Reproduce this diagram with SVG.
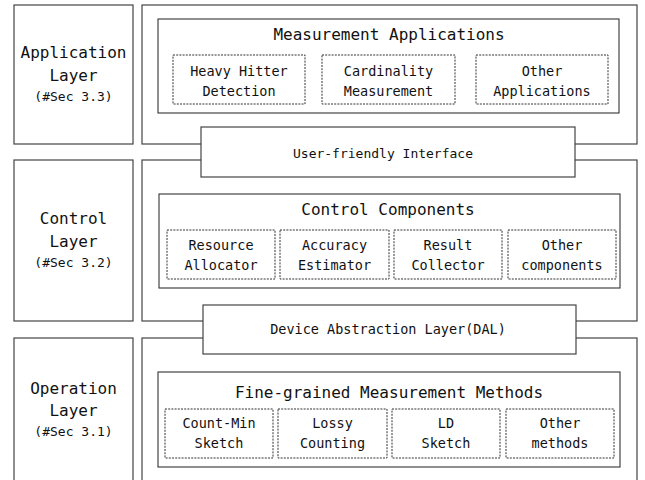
<svg xmlns="http://www.w3.org/2000/svg" width="645" height="480" viewBox="0 0 645 480">
<style>
.box{fill:#fff;stroke:#444;stroke-width:1.2}
.inner{fill:#fff;stroke:#333;stroke-width:1.1}
.dash{fill:#fff;stroke:#333;stroke-width:1;stroke-dasharray:2,1.2}
text{font-family:"DejaVu Sans Mono","Liberation Mono",monospace;fill:#111;text-anchor:middle}
.big{font-size:16px}
.mid{font-size:13.5px}
.sec{font-size:13px}
</style>
<rect width="645" height="480" fill="#fff"/>
<g id="app-layer-label">
<rect class="box" x="14" y="5" width="119" height="139"/>
<text class="big" x="73.5" y="58">Application</text>
<text class="big" x="73.5" y="81">Layer</text>
<text class="sec" x="73.5" y="101">(#Sec 3.3)</text>
</g>
<g id="ctrl-layer-label">
<rect class="box" x="14" y="160" width="119" height="161"/>
<text class="big" x="73.5" y="224">Control</text>
<text class="big" x="73.5" y="247">Layer</text>
<text class="sec" x="73.5" y="267">(#Sec 3.2)</text>
</g>
<g id="op-layer-label">
<rect class="box" x="14" y="338" width="119" height="160"/>
<text class="big" x="73.5" y="394">Operation</text>
<text class="big" x="73.5" y="416">Layer</text>
<text class="sec" x="73.5" y="436">(#Sec 3.1)</text>
</g>
<g id="app-layer">
<rect class="box" x="142" y="5" width="495" height="139"/>
</g>
<g id="ctrl-layer">
<rect class="box" x="142" y="160" width="495" height="161"/>
</g>
<g id="op-layer">
<rect class="box" x="142" y="338" width="495" height="160"/>
</g>
<g id="measurement-apps">
<rect class="inner" x="158" y="19" width="461" height="94"/>
<text class="big" x="389" y="40">Measurement Applications</text>
</g>
<g id="heavy-hitter">
<rect class="dash" x="173" y="55" width="132" height="49"/>
<text class="mid" x="239" y="76">Heavy Hitter</text>
<text class="mid" x="239" y="96">Detection</text>
</g>
<g id="cardinality">
<rect class="dash" x="322" y="55" width="133" height="49"/>
<text class="mid" x="388.5" y="76">Cardinality</text>
<text class="mid" x="388.5" y="96">Measurement</text>
</g>
<g id="other-apps">
<rect class="dash" x="476" y="55" width="132" height="49"/>
<text class="mid" x="542" y="76">Other</text>
<text class="mid" x="542" y="96">Applications</text>
</g>
<g id="user-interface">
<rect class="box" x="201" y="127" width="374" height="50"/>
<text class="sec" x="383" y="158">User-friendly Interface</text>
</g>
<g id="control-components">
<rect class="inner" x="159" y="194" width="461" height="94"/>
<text class="big" x="388" y="215">Control Components</text>
</g>
<g id="resource-allocator">
<rect class="dash" x="167" y="230" width="108" height="49"/>
<text class="mid" x="221" y="250">Resource</text>
<text class="mid" x="221" y="270">Allocator</text>
</g>
<g id="accuracy-estimator">
<rect class="dash" x="280" y="230" width="109" height="49"/>
<text class="mid" x="334.5" y="250">Accuracy</text>
<text class="mid" x="334.5" y="270">Estimator</text>
</g>
<g id="result-collector">
<rect class="dash" x="394" y="230" width="108" height="49"/>
<text class="mid" x="448" y="250">Result</text>
<text class="mid" x="448" y="270">Collector</text>
</g>
<g id="other-components">
<rect class="dash" x="508" y="230" width="108" height="49"/>
<text class="mid" x="562" y="250">Other</text>
<text class="mid" x="562" y="270">components</text>
</g>
<g id="dal">
<rect class="box" x="203" y="305" width="373" height="49"/>
<text class="mid" x="388" y="334">Device Abstraction Layer(DAL)</text>
</g>
<g id="fine-grained">
<rect class="inner" x="158" y="372" width="462" height="95"/>
<text class="big" x="389" y="398">Fine-grained Measurement Methods</text>
</g>
<g id="count-min">
<rect class="dash" x="165" y="409" width="108" height="49"/>
<text class="mid" x="219" y="428">Count-Min</text>
<text class="mid" x="219" y="448">Sketch</text>
</g>
<g id="lossy-counting">
<rect class="dash" x="278" y="409" width="109" height="49"/>
<text class="mid" x="332.5" y="428">Lossy</text>
<text class="mid" x="332.5" y="448">Counting</text>
</g>
<g id="ld-sketch">
<rect class="dash" x="392" y="409" width="108" height="49"/>
<text class="mid" x="446" y="428">LD</text>
<text class="mid" x="446" y="448">Sketch</text>
</g>
<g id="other-methods">
<rect class="dash" x="506" y="409" width="108" height="49"/>
<text class="mid" x="560" y="428">Other</text>
<text class="mid" x="560" y="448">methods</text>
</g>
<g id="connectors"></g>
</svg>
